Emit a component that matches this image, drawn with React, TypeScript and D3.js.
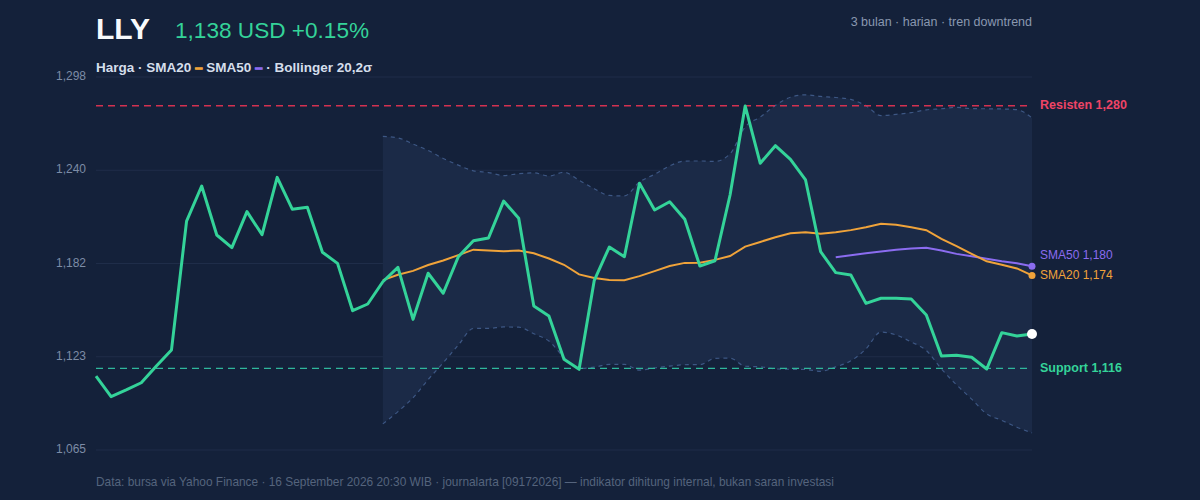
/**
 * LLY price chart - 3 months daily closes with SMA20, SMA50, Bollinger 20,2σ
 * and support / resistance levels, drawn with D3 into an SVG.
 */

import { useEffect, useRef } from 'react';
import * as d3 from 'd3';

// Daily closes, oldest first (USD)
const PRICES: number[] = [
  1111.2, 1098.3, 1102.5, 1107.0, 1117.5, 1127.5, 1208.0, 1229.9, 1199.3, 1191.4,
  1213.9, 1199.5, 1235.3, 1215.4, 1216.6, 1188.5, 1181.6, 1152.0, 1156.2, 1170.1,
  1179.1, 1146.6, 1175.4, 1162.9, 1185.7, 1195.7, 1197.4, 1220.5, 1209.7, 1154.9,
  1148.7, 1121.7, 1115.4, 1170.8, 1191.8, 1185.7, 1231.6, 1214.9, 1220.1, 1209.1,
  1179.9, 1183.2, 1224.3, 1279.9, 1244.1, 1255.1, 1246.6, 1233.7, 1188.9, 1175.8,
  1174.3, 1156.6, 1159.8, 1159.8, 1159.3, 1149.3, 1123.7, 1124.2, 1122.9, 1115.6,
  1138.3, 1136.2, 1137.5,
];

const Y_TICKS: number[] = [1065, 1123.25, 1181.5, 1239.75, 1298];
const RESISTANCE = 1280;
const SUPPORT = 1116;
const CHANGE_PCT = 0.15;

const TICKER = 'LLY';
const SUBTITLE = '3 bulan · harian · tren downtrend';
const FOOTER =
  'Data: bursa via Yahoo Finance · 16 September 2026 20:30 WIB · journalarta [09172026] — indikator dihitung internal, bukan saran investasi';

const WIDTH = 1200;
const HEIGHT = 500;
const PLOT = { left: 96, right: 1032, top: 77, bottom: 450 };

const C = {
  bg: '#14213a',
  grid: '#1f2d49',
  band: '#1b2a47',
  bandStroke: '#3d5784',
  tick: '#7d8ca6',
  title: '#f8fafc',
  green: '#34d399',
  legend: '#d5deeb',
  sub: '#8a98b0',
  footer: '#55647d',
  red: '#d33150',
  redLabel: '#ef4466',
  supportLine: '#2fb79c',
  orange: '#f0a33a',
  purple: '#8b6cf0',
};

const FONT = '"Liberation Sans", Arial, Helvetica, sans-serif';
const fmt = d3.format(',.0f');

// Indicators are derived from the closes, as the source chart does
function sma(values: number[], period: number): (number | null)[] {
  return values.map((_, i) => (i < period - 1 ? null : d3.mean(values.slice(i - period + 1, i + 1)) ?? null));
}

function bollinger(values: number[], period: number, k: number) {
  return values.map((_, i) => {
    if (i < period - 1) return null;
    const win = values.slice(i - period + 1, i + 1);
    const m = d3.mean(win) ?? 0;
    const sd = Math.sqrt(d3.mean(win, v => (v - m) ** 2) ?? 0);
    return { i, upper: m + k * sd, lower: m - k * sd };
  });
}

export default function App() {
  const svgRef = useRef<SVGSVGElement>(null);

  useEffect(() => {
    document.body.style.margin = '0';
    if (!svgRef.current) return;

    const svg = d3.select(svgRef.current).style('font-family', FONT);
    svg.selectAll('*').remove();

    const x = d3.scaleLinear().domain([0, PRICES.length - 1]).range([PLOT.left, PLOT.right]);
    const y = d3.scaleLinear().domain([Y_TICKS[0], Y_TICKS[Y_TICKS.length - 1]]).range([PLOT.bottom, PLOT.top]);

    const sma20 = sma(PRICES, 20);
    const sma50 = sma(PRICES, 50);
    const bands = bollinger(PRICES, 20, 2).filter(b => b !== null) as { i: number; upper: number; lower: number }[];

    svg.append('rect').attr('width', WIDTH).attr('height', HEIGHT).attr('fill', C.bg);

    // Grid + y ticks
    const grid = svg.append('g');
    Y_TICKS.forEach(t => {
      grid
        .append('line')
        .attr('x1', PLOT.left)
        .attr('x2', PLOT.right)
        .attr('y1', y(t))
        .attr('y2', y(t))
        .attr('stroke', C.grid)
        .attr('stroke-width', 1);
      grid
        .append('text')
        .attr('x', PLOT.left - 10)
        .attr('y', y(t))
        .attr('text-anchor', 'end')
        .attr('dominant-baseline', 'middle')
        .attr('font-size', '12px')
        .attr('fill', C.tick)
        .text(fmt(t));
    });

    // Bollinger band
    const area = d3
      .area<{ i: number; upper: number; lower: number }>()
      .x(d => x(d.i))
      .y0(d => y(d.lower))
      .y1(d => y(d.upper))
      .curve(d3.curveMonotoneX);
    svg.append('path').datum(bands).attr('d', area).attr('fill', C.band);
    (['upper', 'lower'] as const).forEach(key => {
      const line = d3
        .line<{ i: number; upper: number; lower: number }>()
        .x(d => x(d.i))
        .y(d => y(d[key]))
        .curve(d3.curveMonotoneX);
      svg
        .append('path')
        .datum(bands)
        .attr('d', line)
        .attr('fill', 'none')
        .attr('stroke', C.bandStroke)
        .attr('stroke-width', 1.2)
        .attr('stroke-dasharray', '4 4');
    });

    // Support / resistance
    const levels = [
      { value: RESISTANCE, label: `Resisten ${fmt(RESISTANCE)}`, line: C.red, text: C.redLabel },
      { value: SUPPORT, label: `Support ${fmt(SUPPORT)}`, line: C.supportLine, text: C.green },
    ];
    levels.forEach(l => {
      svg
        .append('line')
        .attr('x1', PLOT.left)
        .attr('x2', PLOT.right)
        .attr('y1', y(l.value))
        .attr('y2', y(l.value))
        .attr('stroke', l.line)
        .attr('stroke-width', 1.4)
        .attr('stroke-dasharray', '7 5');
      svg
        .append('text')
        .attr('x', PLOT.right + 8)
        .attr('y', y(l.value))
        .attr('dominant-baseline', 'middle')
        .attr('font-size', '12.5px')
        .attr('font-weight', '700')
        .attr('fill', l.text)
        .text(l.label);
    });

    // Moving averages
    const maLine = d3
      .line<number | null>()
      .defined(d => d !== null)
      .x((_, i) => x(i))
      .y(d => y(d as number));
    const mas = [
      { name: 'SMA50', data: sma50, color: C.purple },
      { name: 'SMA20', data: sma20, color: C.orange },
    ];
    mas.forEach(m => {
      svg
        .append('path')
        .datum(m.data)
        .attr('d', maLine)
        .attr('fill', 'none')
        .attr('stroke', m.color)
        .attr('stroke-width', 2);
    });

    // Price
    const priceLine = d3
      .line<number>()
      .x((_, i) => x(i))
      .y(d => y(d));
    svg
      .append('path')
      .datum(PRICES)
      .attr('d', priceLine)
      .attr('fill', 'none')
      .attr('stroke', C.green)
      .attr('stroke-width', 3)
      .attr('stroke-linejoin', 'round');

    const last = PRICES.length - 1;

    // End dots + MA labels (lower label keeps its place, upper one pushed up)
    const ends = mas
      .map(m => ({ ...m, value: m.data[last] as number }))
      .sort((a, b) => y(b.value) - y(a.value));
    let prevY = Infinity;
    ends.forEach(e => {
      svg.append('circle').attr('cx', x(last)).attr('cy', y(e.value)).attr('r', 3.5).attr('fill', e.color);
      const ly = Math.min(y(e.value), prevY - 20);
      prevY = ly;
      svg
        .append('text')
        .attr('x', PLOT.right + 8)
        .attr('y', ly)
        .attr('dominant-baseline', 'middle')
        .attr('font-size', '12px')
        .attr('fill', e.color)
        .text(`${e.name} ${fmt(e.value)}`);
    });
    svg.append('circle').attr('cx', x(last)).attr('cy', y(PRICES[last])).attr('r', 5).attr('fill', '#ffffff');

    // Header
    svg
      .append('text')
      .attr('x', PLOT.left)
      .attr('y', 39)
      .attr('font-size', '30px')
      .attr('font-weight', '700')
      .attr('fill', C.title)
      .text(TICKER);
    svg
      .append('text')
      .attr('x', 175)
      .attr('y', 38)
      .attr('font-size', '22.6px')
      .attr('fill', C.green)
      .text(`${fmt(PRICES[last])} USD ${CHANGE_PCT >= 0 ? '+' : ''}${CHANGE_PCT.toFixed(2)}%`);
    svg
      .append('text')
      .attr('x', PLOT.right)
      .attr('y', 26)
      .attr('text-anchor', 'end')
      .attr('font-size', '12.5px')
      .attr('fill', C.sub)
      .text(SUBTITLE);

    // Legend
    const legend = svg
      .append('text')
      .attr('x', PLOT.left)
      .attr('y', 72)
      .attr('font-size', '13.5px')
      .attr('font-weight', '700')
      .attr('fill', C.legend);
    legend.append('tspan').text('Harga · SMA20 ');
    legend.append('tspan').attr('fill', C.orange).attr('stroke', C.orange).attr('stroke-width', 1.2).text('–');
    legend.append('tspan').text(' SMA50 ');
    legend.append('tspan').attr('fill', C.purple).attr('stroke', C.purple).attr('stroke-width', 1.2).text('–');
    legend.append('tspan').text(' · Bollinger 20,2σ');

    // Footer
    svg
      .append('text')
      .attr('x', PLOT.left)
      .attr('y', 486)
      .attr('font-size', '11.9px')
      .attr('fill', C.footer)
      .text(FOOTER);

    return () => {
      svg.selectAll('*').remove();
    };
  }, []);

  return <svg ref={svgRef} width={WIDTH} height={HEIGHT} style={{ display: 'block' }} />;
}
